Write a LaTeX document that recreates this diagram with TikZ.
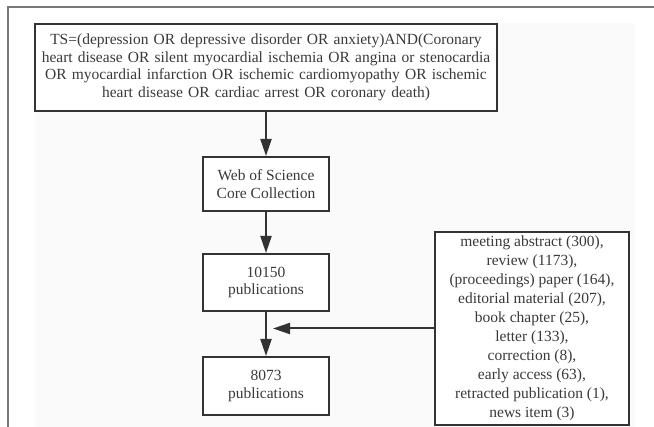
\documentclass[tikz,border=0pt]{standalone}
\usepackage{fontspec}
\setmainfont{Liberation Serif}
\usetikzlibrary{arrows.meta}

\definecolor{boxline}{HTML}{333333}
\definecolor{frameline}{HTML}{777777}
\definecolor{panel}{HTML}{FAFAFA}
\definecolor{txt}{HTML}{3A3A3A}

\tikzset{
  flowbox/.style={draw=boxline,line width=2pt,fill=white,align=center,inner sep=2pt,
    font=\fontsize{15.5}{17.5}\selectfont,text=txt},
  flowarrow/.style={draw=boxline,line width=2pt,-{Triangle[length=17pt,width=11pt]}},
}

\begin{document}
\begin{tikzpicture}[x=1pt,y=-1pt]
    \useasboundingbox (0,0) rectangle (654,427);
	% background panel and frame
	\fill[white] (0,0) rectangle (654,427);
	\fill[panel] (35,23) rectangle (635,427);
	\draw[frameline,line width=2pt] (8,427) -- (8,7) -- (654,7);
	% boxes
	\node[flowbox,minimum width=462pt,minimum height=87pt,text width=455pt] (query) at (266,67.5)
	  {TS=(depression OR depressive disorder OR anxiety)AND(Coronary\\
	   heart disease OR silent myocardial ischemia OR angina or stenocardia\\
	   OR myocardial infarction OR ischemic cardiomyopathy OR ischemic\\
	   heart disease OR cardiac arrest OR coronary death)};
	\node[flowbox,minimum width=126pt,minimum height=54pt] (wos) at (266,184)
	  {Web of Science\\Core Collection};
	\node[flowbox,minimum width=126pt,minimum height=57pt] (found) at (266,282.5)
	  {10150\\publications};
	\node[flowbox,minimum width=126pt,minimum height=58pt] (final) at (266,386)
	  {8073\\publications};
	\node[flowbox,minimum width=194pt,minimum height=193pt,
	  font=\fontsize{15.5}{19}\selectfont] (excl) at (532,328.5)
	  {meeting abstract (300),\\
	   review (1173),\\
	   (proceedings) paper (164),\\
	   editorial material (207),\\
	   book chapter (25),\\
	   letter (133),\\
	   correction (8),\\
	   early access (63),\\
	   retracted publication (1),\\
	   news item (3)};
	% connectors
	\coordinate (joint) at (273,328.5);
	\draw[flowarrow] (query) -- (wos);
	\draw[flowarrow] (wos) -- (found);
	\draw[flowarrow] (found) -- (final);
	\draw[flowarrow] (excl.west) -- (joint);
\end{tikzpicture}
\end{document}
